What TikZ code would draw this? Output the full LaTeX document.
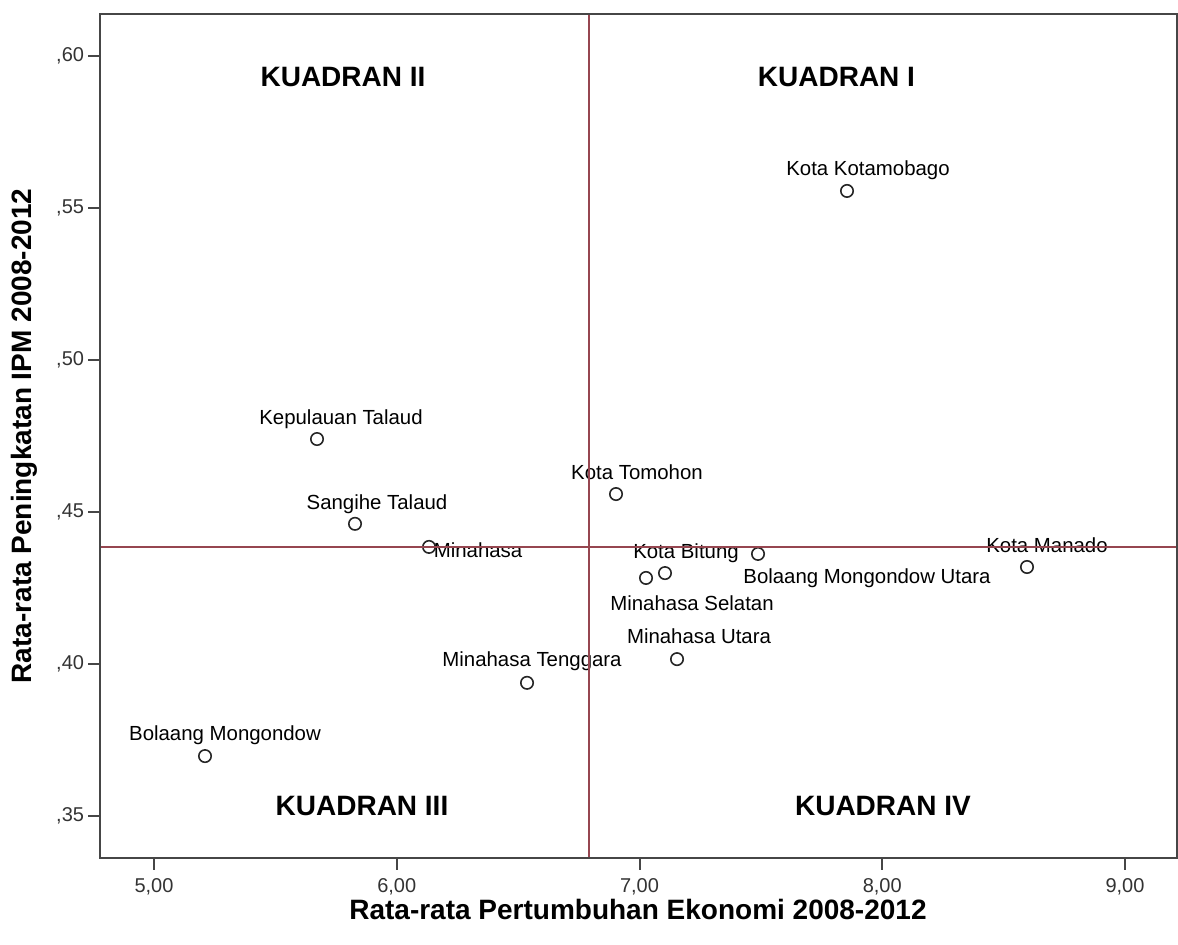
\documentclass[tikz,border=0pt]{standalone}
\usepackage{fontspec}
\setmainfont{Liberation Sans}
\definecolor{refline}{RGB}{150,70,80}
\definecolor{axisgray}{RGB}{70,70,70}
\tikzset{
  pt/.style={circle,draw=black!85,line width=.8pt,minimum size=6.2pt,inner sep=0pt},
  lbl/.style={anchor=base,inner sep=0pt,font=\fontsize{10.2}{12}\selectfont},
  quad/.style={inner sep=0pt,font=\fontsize{14}{17}\selectfont\bfseries},
  ttl/.style={inner sep=0pt,font=\fontsize{14}{17}\selectfont\bfseries},
  tck/.style={inner sep=0pt,text=black!80,font=\fontsize{10}{12}\selectfont}
}
\begin{document}
\begin{tikzpicture}[x=121.375pt,y=1520pt]
\useasboundingbox (4.3656,.30757) rectangle (9.2184,.61842);
\coordinate (ll) at (4.7776,.33618);
\coordinate (ur) at (9.2143,.61382);

% ticks and tick labels
\foreach \x in {5,6,7,8,9}
  \draw[axisgray,line width=1pt] (\x,0 |- ll) -- ++(0,-6pt) node[tck,anchor=north,yshift=-4pt] (x\x) {\x,00};
\foreach \y in {35,40,45,50,55,60}
  \draw[axisgray,line width=1pt] (ll |- 0,.\y) -- ++(-6pt,0) node[tck,anchor=east,xshift=-1.5pt] (y\y) {,\y};

% axis titles
\node[ttl] (xt) at (6.9938,.3191) {Rata-rata Pertumbuhan Ekonomi 2008-2012};
\node[ttl,rotate=90] (yt) at (4.4645,.475) {Rata-rata Peningkatan IPM 2008-2012};

% quadrant names
\node[quad] (q2) at (5.7786,.5931) {KUADRAN II};
\node[quad] (q1) at (7.8115,.5931) {KUADRAN I};
\node[quad] (q3) at (5.8569,.3533) {KUADRAN III};
\node[quad] (q4) at (8.003,.3533) {KUADRAN IV};

% regions
\node[pt] (kk) at (7.8548,.5556) {};
\node[lbl] (kkl) at ([shift={(10.5pt,7.85pt)}]kk.center) {Kota Kotamobago};
\node[pt] (kt) at (5.6715,.474) {};
\node[lbl] (ktl) at ([shift={(12pt,7.35pt)}]kt.center) {Kepulauan Talaud};
\node[pt] (st) at (5.828,.4461) {};
\node[lbl] (stl) at ([shift={(11pt,7.35pt)}]st.center) {Sangihe Talaud};
\node[pt] (mh) at (6.1329,.4385) {};
\node[lbl] (mhl) at ([shift={(24.5pt,-5.15pt)}]mh.center) {Minahasa};
\node[pt] (ktm) at (6.9032,.4559) {};
\node[lbl] (ktml) at ([shift={(10.5pt,7.35pt)}]ktm.center) {Kota Tomohon};
\node[pt] (kb) at (7.105,.4299) {};
\node[lbl] (kbl) at ([shift={(10.5pt,7.35pt)}]kb.center) {Kota Bitung};
\node[pt] (ms) at (7.0268,.4283) {};
\node[lbl] (msl) at ([shift={(23pt,-16.15pt)}]ms.center) {Minahasa Selatan};
\node[pt] (bmu) at (7.4882,.4362) {};
\node[lbl] (bmul) at ([shift={(54.5pt,-14.65pt)}]bmu.center) {Bolaang Mongondow Utara};
\node[pt] (km) at (8.5963,.4319) {};
\node[lbl] (kml) at ([shift={(10pt,7.35pt)}]km.center) {Kota Manado};
\node[pt] (mu) at (7.1545,.4016) {};
\node[lbl] (mul) at ([shift={(11pt,7.85pt)}]mu.center) {Minahasa Utara};
\node[pt] (mt) at (6.5366,.3938) {};
\node[lbl] (mtl) at ([shift={(2.5pt,8.35pt)}]mt.center) {Minahasa Tenggara};
\node[pt] (bm) at (5.2101,.3697) {};
\node[lbl] (bml) at ([shift={(10pt,7.85pt)}]bm.center) {Bolaang Mongondow};

% mean lines
\draw[refline,line width=.8pt] (6.792,0 |- ll) -- (6.792,0 |- ur);
\draw[refline,line width=.8pt] (ll |- 0,.43849) -- (ur |- 0,.43849);

% frame
\draw[axisgray,line width=1pt] (ll) rectangle (ur);
\end{tikzpicture}
\end{document}
